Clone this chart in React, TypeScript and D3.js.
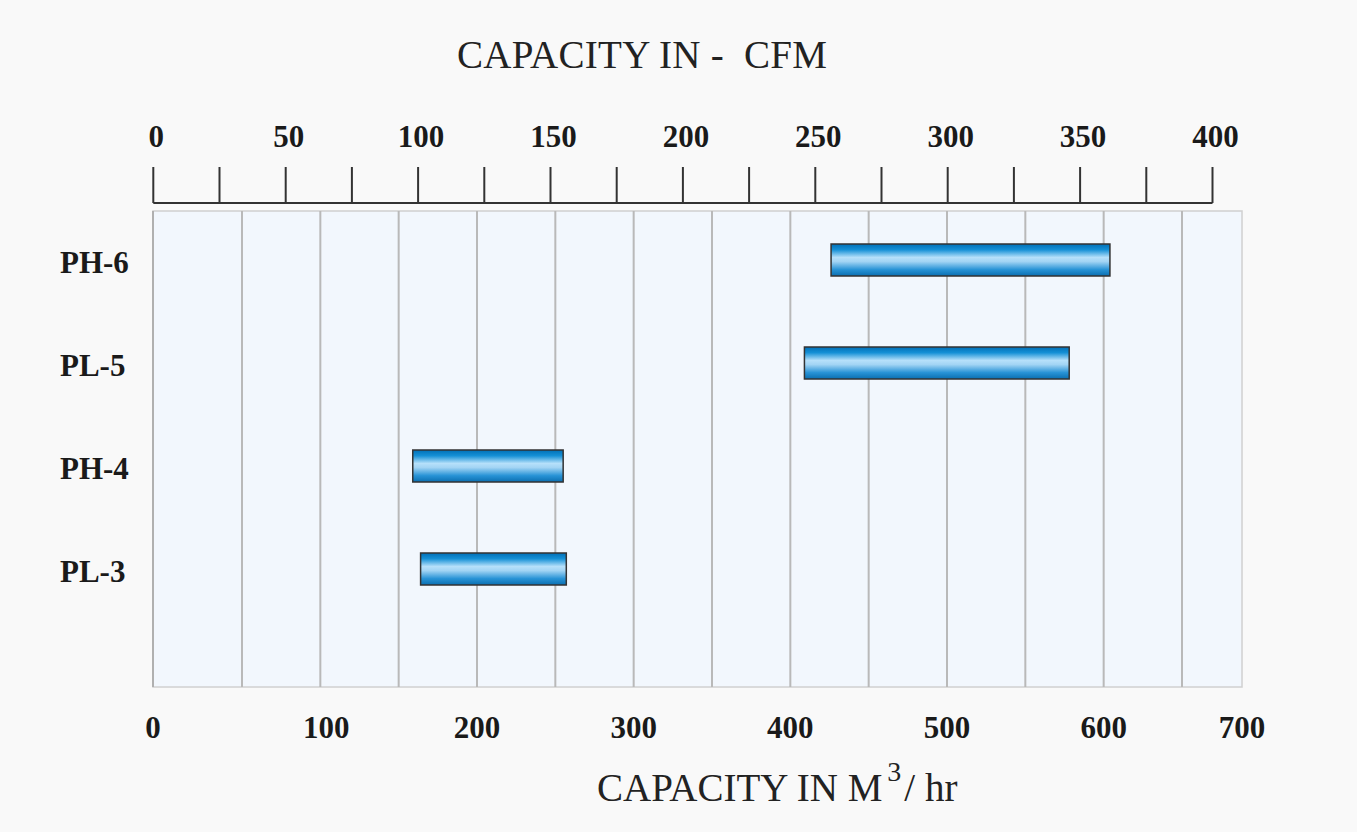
import React from "react";
import * as d3 from "d3";

const categories = ["PH-6", "PL-5", "PH-4", "PL-3"];
const rangeStart = [426, 409, 159, 164];
const rangeEnd = [604, 578, 255, 257];
const m3Ticks = [0, 100, 200, 300, 400, 500, 600, 700];
const m3Grid = [50, 100, 150, 200, 250, 300, 350, 400, 450, 500, 550, 600, 650];
const cfmLabels = [0, 50, 100, 150, 200, 250, 300, 350, 400];
const cfmMinor = d3.range(0, 401, 25);

const W = 1357;
const H = 832;
const FONT = "'Liberation Serif', 'Times New Roman', serif";

export default function App() {
  const plotL = 153, plotR = 1242, plotT = 211, plotB = 687;
  const x = d3.scaleLinear().domain([0, 50, 650, 700]).range([153, 242, 1182, 1242]);
  const xc = d3.scaleLinear().domain([0, 400]).range([153.3, 1212.5]);
  const y = d3.scalePoint<string>().domain(categories).range([260, 569]);
  const barH = 32;
  const axisY = 203;

  return (
    <svg width={W} height={H} style={{ position: "absolute", left: 0, top: 0, background: "#f9f9f9" }}>
      <defs>
        <linearGradient id="barGrad" x1="0" y1="0" x2="0" y2="1">
          <stop offset="0%" stopColor="#006fb6" />
          <stop offset="18%" stopColor="#1590d6" />
          <stop offset="42%" stopColor="#b6e0fa" />
          <stop offset="55%" stopColor="#a2d4f4" />
          <stop offset="80%" stopColor="#2893d6" />
          <stop offset="100%" stopColor="#0a6eb0" />
        </linearGradient>
      </defs>
      <rect x={0} y={0} width={W} height={H} fill="#f9f9f9" />
      <text x={457} y={67.5} fontFamily={FONT} fontSize={39} fill="#222" style={{ whiteSpace: "pre" }} textLength={370} lengthAdjust="spacing">
        {"CAPACITY IN -  CFM"}
      </text>

      {/* top CFM axis */}
      <line x1={xc(0)} x2={xc(400)} y1={axisY} y2={axisY} stroke="#333" strokeWidth={2} />
      {cfmMinor.map((v) => (
        <line key={"t" + v} x1={xc(v)} x2={xc(v)} y1={167} y2={axisY} stroke="#333" strokeWidth={2} />
      ))}
      {cfmLabels.map((v) => (
        <text key={"cl" + v} x={xc(v) + 3} y={147} textAnchor="middle" fontFamily={FONT} fontWeight="bold" fontSize={31} fill="#1a1a1a">
          {v}
        </text>
      ))}

      {/* plot area */}
      <rect x={plotL} y={plotT} width={plotR - plotL} height={plotB - plotT} fill="#f2f7fd" stroke="#d0d0d0" strokeWidth={1.5} />
      <line x1={plotL} x2={plotL} y1={plotT} y2={plotB} stroke="#b0b0b0" strokeWidth={2} />
      {m3Grid.map((v) => (
        <line key={"g" + v} x1={x(v)} x2={x(v)} y1={plotT} y2={plotB} stroke="#b9b9b9" strokeWidth={2} />
      ))}

      {categories.map((c, i) => (
        <g key={c}>
          <text x={60} y={(y(c) as number) + 13} fontFamily={FONT} fontWeight="bold" fontSize={31} fill="#1a1a1a">
            {c}
          </text>
          <rect
            x={x(rangeStart[i])}
            y={(y(c) as number) - barH / 2}
            width={x(rangeEnd[i]) - x(rangeStart[i])}
            height={barH}
            fill="url(#barGrad)"
            stroke="#333"
            strokeWidth={1.5}
          />
        </g>
      ))}

      {/* bottom m3/hr labels */}
      {m3Ticks.map((v) => (
        <text key={"b" + v} x={x(v) + (v === 100 ? 6 : 0)} y={738} textAnchor="middle" fontFamily={FONT} fontWeight="bold" fontSize={31} fill="#1a1a1a">
          {v}
        </text>
      ))}
      <text x={597} y={801} fontFamily={FONT} fontSize={39} fill="#222" style={{ whiteSpace: "pre" }}>
        {"CAPACITY IN M"}
        <tspan fontSize={28} dx={5} dy={-20}>3</tspan>
        <tspan dx={3} dy={20}>{"/ hr"}</tspan>
      </text>
    </svg>
  );
}
